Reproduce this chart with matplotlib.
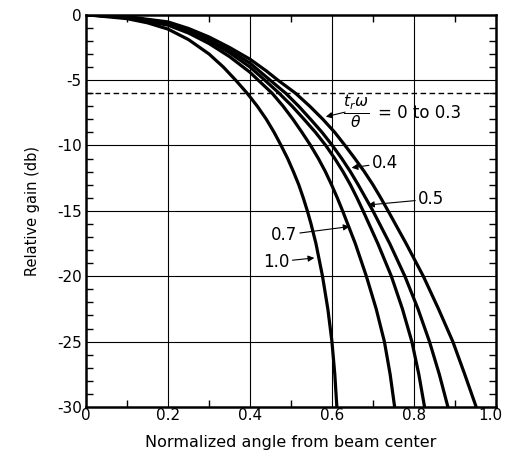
import numpy as np
import matplotlib.pyplot as plt
from matplotlib.ticker import MultipleLocator
import matplotlib.transforms as mtransforms

# curvas: angulo normalizado vs ganancia relativa (dB)
x_03 = [0, 0.1, 0.2, 0.25, 0.3, 0.35, 0.4, 0.44, 0.468, 0.511, 0.546, 0.578, 0.607, 0.632,
        0.656, 0.679, 0.700, 0.719, 0.737, 0.781, 0.823, 0.860, 0.895, 0.924, 0.952]
g_03 = [0, -0.15, -0.55, -1.05, -1.7, -2.5, -3.4, -4.3, -5, -6, -7, -8, -9, -10,
        -11, -12, -13, -14, -15, -17.5, -20, -22.5, -25, -27.5, -30]

x_04 = [0, 0.1, 0.2, 0.25, 0.3, 0.35, 0.4, 0.449, 0.487, 0.519, 0.548, 0.576, 0.601,
        0.624, 0.645, 0.664, 0.700, 0.741, 0.778, 0.810, 0.838, 0.862, 0.883]
g_04 = [0, -0.17, -0.62, -1.15, -1.85, -2.7, -3.7, -5, -6, -7, -8, -9, -10,
        -11, -12, -13, -15, -17.5, -20, -22.5, -25, -27.5, -30]

x_05 = [0, 0.1, 0.2, 0.25, 0.3, 0.35, 0.4, 0.436, 0.471, 0.503, 0.532, 0.560, 0.585,
        0.607, 0.627, 0.645, 0.661, 0.676, 0.712, 0.745, 0.772, 0.795, 0.812, 0.826]
g_05 = [0, -0.2, -0.7, -1.25, -2.0, -2.9, -4.0, -5, -6, -7, -8, -9, -10,
        -11, -12, -13, -14, -15, -17.5, -20, -22.5, -25, -27.5, -30]

x_07 = [0, 0.1, 0.2, 0.25, 0.3, 0.35, 0.4, 0.42, 0.454, 0.481, 0.505, 0.527, 0.548,
        0.567, 0.584, 0.599, 0.613, 0.626, 0.657, 0.684, 0.708, 0.728, 0.742, 0.753]
g_07 = [0, -0.22, -0.8, -1.4, -2.2, -3.2, -4.4, -5, -6, -7, -8, -9, -10,
        -11, -12, -13, -14, -15, -17.5, -20, -22.5, -25, -27.5, -30]

x_10 = [0, 0.1, 0.15, 0.2, 0.25, 0.3, 0.335, 0.365, 0.393, 0.418, 0.44, 0.459, 0.476,
        0.492, 0.506, 0.519, 0.530, 0.540, 0.549, 0.561, 0.577, 0.590, 0.600, 0.607, 0.612]
g_10 = [0, -0.3, -0.62, -1.1, -1.9, -3.0, -4, -5, -6, -7, -8, -9, -10,
        -11, -12, -13, -14, -15, -16, -17.5, -20, -22.5, -25, -27.5, -30]

curvas = [(x_03, g_03), (x_04, g_04), (x_05, g_05), (x_07, g_07), (x_10, g_10)]

x_ticks = [0, 0.2, 0.4, 0.6, 0.8, 1.0]
x_tick_labels = ['0', '0.2', '0.4', '0.6', '0.8', '1.0']
y_ticks = [0, -5, -10, -15, -20, -25, -30]
y_tick_labels = ['0', '-5', '-10', '-15', '-20', '-25', '-30']
nivel_6db = -6

fig = plt.figure(figsize=(5.06, 4.53), dpi=100)
ax = fig.add_axes([0.170, 0.1015, 0.810, 0.866])

# cuadricula
for xv in x_ticks[1:-1]:
    ax.axvline(xv, color='black', lw=0.8, zorder=1)
for yv in y_ticks[1:-1]:
    ax.axhline(yv, color='black', lw=0.8, zorder=1)
ax.axhline(nivel_6db, color='black', lw=1.0, ls=(0, (4, 2.5)), zorder=1)

for xs, gs in curvas:
    ax.plot(xs, gs, color='black', lw=2.3, solid_joinstyle='round', solid_capstyle='round', zorder=3)

ax.set_xlim(0, 1.0)
ax.set_ylim(-30, 0)
ax.set_xticks(x_ticks)
ax.set_xticklabels(x_tick_labels)
ax.set_yticks(y_ticks)
ax.set_yticklabels(y_tick_labels)
ax.xaxis.set_minor_locator(MultipleLocator(0.1))
ax.yaxis.set_minor_locator(MultipleLocator(1))
ax.tick_params(which='both', direction='in', top=True, right=True, labelsize=11)
ax.tick_params(axis='x', pad=1)
ax.tick_params(axis='y', pad=3)
ax.tick_params(which='major', length=0)
ax.tick_params(which='minor', length=5, width=1.0)
for s in ax.spines.values():
    s.set_linewidth(1.8)

# la etiqueta 1.0 queda justo en el borde
ultima = ax.get_xticklabels()[-1]
ultima.set_transform(ultima.get_transform() + mtransforms.ScaledTranslation(-4 / 72, 0, fig.dpi_scale_trans))

ax.set_xlabel('Normalized angle from beam center', fontsize=11.5, labelpad=8)
ax.set_ylabel('Relative gain (db)', fontsize=10.5, labelpad=12)

# etiquetas con flechas
flecha = dict(arrowstyle='-|>', lw=0.8, color='black', mutation_scale=9, shrinkA=0, shrinkB=0)
ax.text(0.658, -7.45, r'$\frac{t_r\omega}{\theta}$', fontsize=16, ha='center', va='center')
ax.text(0.712, -7.5, '= 0 to 0.3', fontsize=12, ha='left', va='center')
ax.annotate('', xy=(0.585, -7.8), xytext=(0.632, -7.45), arrowprops=flecha)
ax.annotate('0.4', xy=(0.648, -11.7), xytext=(0.697, -11.35), fontsize=12, ha='left', va='center', arrowprops=flecha)
ax.annotate('0.5', xy=(0.688, -14.55), xytext=(0.81, -14.1), fontsize=12, ha='left', va='center', arrowprops=flecha)
ax.annotate('0.7', xy=(0.643, -16.2), xytext=(0.515, -16.85), fontsize=12, ha='right', va='center', arrowprops=flecha)
ax.annotate('1.0', xy=(0.557, -18.6), xytext=(0.497, -18.9), fontsize=12, ha='right', va='center', arrowprops=flecha)

plt.savefig('out.png', dpi=100)
